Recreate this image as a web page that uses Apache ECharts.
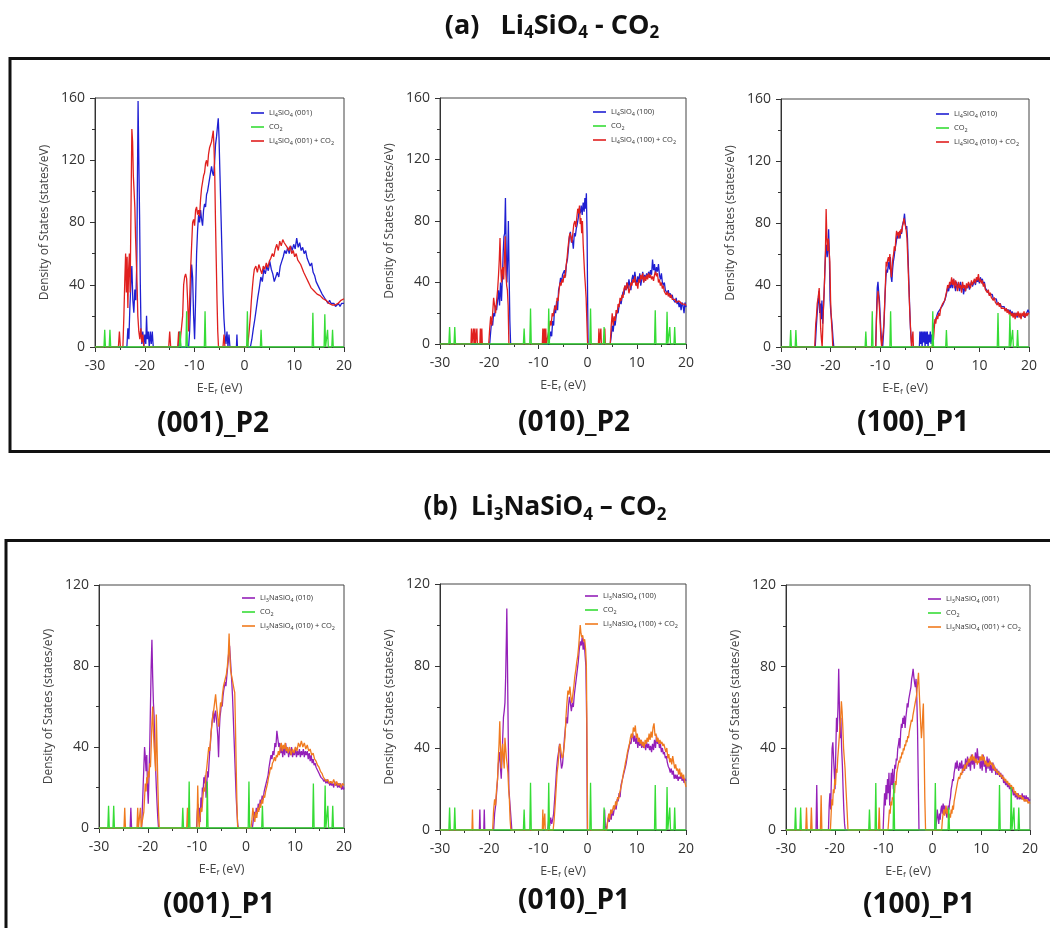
<!DOCTYPE html>
<html>
<head>
<meta charset="utf-8">
<script src="https://cdn.jsdelivr.net/npm/echarts@6/dist/echarts.min.js"></script>
<style>
html,body{margin:0;padding:0;background:#fff;}
#c{width:1050px;height:928px;}
</style>
</head>
<body>
<div id="c"></div>
<script>
// ---------- DATA (energy eV, DOS states/eV) ----------
const xTicks = [-30, -20, -10, 0, 10, 20];
const yTicksA = [0, 40, 80, 120, 160];
const yTicksB = [0, 40, 80, 120];

const co2 = [[-30,0],[-28.2,0],[-28.05,11],[-27.9,0],[-27.15,0],[-27,11],[-26.85,0],[-13.05,0],[-12.9,10],[-12.75,0],[-11.75,0],[-11.6,23],[-11.45,0],[-8.05,0],[-7.9,23],[-7.75,0],[0.45,0],[0.6,23],[0.75,0],[3.2,0],[3.35,11],[3.5,0],[13.6,0],[13.75,22],[13.9,0],[16,0],[16.15,21],[16.3,0],[16.55,0],[16.7,11],[16.85,0],[17.55,0],[17.7,11],[17.85,0],[20,0]];

const a1Clean = [[-30,0],[-23.6,0],[-23.4,12],[-23.2,5],[-23,25],[-22.8,40],[-22.6,52],[-22.4,30],[-22.2,22],[-22,37],[-21.8,30],[-21.6,55],[-21.5,100],[-21.35,158],[-21.2,120],[-21.05,85],[-20.9,40],[-20.75,10],[-20.6,2],[-20.4,10],[-20.2,0],[-20,8],[-19.8,2],[-19.65,20],[-19.5,5],[-19.3,10],[-19.1,0],[-18.9,10],[-18.7,2],[-18.5,10],[-18.3,0],[-13.2,0],[-13,10],[-12.8,0],[-11.2,0],[-11,10],[-10.8,30],[-10.6,53],[-10.4,45],[-10.2,20],[-10,5],[-9.8,30],[-9.6,60],[-9.4,75],[-9.2,85],[-9,80],[-8.8,88],[-8.6,82],[-8.4,78],[-8.2,88],[-8,92],[-7.8,90],[-7.6,98],[-7.4,100],[-7.2,104],[-7,108],[-6.8,112],[-6.6,116],[-6.4,112],[-6.2,110],[-6,118],[-5.8,130],[-5.6,135],[-5.4,142],[-5.25,147],[-5.1,135],[-4.9,110],[-4.7,85],[-4.5,60],[-4.3,35],[-4.1,18],[-3.9,8],[-3.7,2],[-3.5,10],[-3.3,0],[-3.1,8],[-2.9,0],[-1.6,0],[-1.5,8],[-1.4,0],[1.2,0],[1.5,5],[1.8,12],[2.1,18],[2.4,25],[2.7,32],[3,38],[3.3,45],[3.6,42],[3.9,50],[4.2,47],[4.5,52],[4.8,49],[5.1,55],[5.4,50],[5.7,47],[6,42],[6.3,45],[6.6,48],[6.9,45],[7.2,52],[7.5,55],[7.8,58],[8.1,62],[8.4,60],[8.7,64],[9,60],[9.3,65],[9.6,62],[9.9,66],[10.2,63],[10.5,70],[10.8,64],[11.1,67],[11.4,62],[11.7,64],[12,60],[12.3,62],[12.6,57],[12.9,58],[13.2,52],[13.5,54],[13.8,48],[14.1,46],[14.4,42],[14.7,43],[15,38],[15.3,37],[15.6,34],[15.9,33],[16.2,31],[16.5,30],[16.8,28],[17.1,30],[17.4,28],[17.7,27],[18,28],[18.3,26],[18.6,27],[18.9,28],[19.2,26],[19.5,28],[19.8,27],[20,28]];
const a1Ads = [[-30,0],[-25.3,0],[-25.1,10],[-24.9,0],[-24.4,0],[-24.2,20],[-24,45],[-23.85,60],[-23.7,35],[-23.55,58],[-23.4,25],[-23.25,50],[-23.1,60],[-22.95,35],[-22.8,80],[-22.6,140],[-22.45,132],[-22.3,110],[-22.15,100],[-22,90],[-21.85,70],[-21.7,55],[-21.55,40],[-21.4,20],[-21.2,10],[-21,5],[-20.8,12],[-20.6,3],[-20.4,8],[-20.2,0],[-15.2,0],[-15,10],[-14.8,0],[-13.4,0],[-13.2,10],[-13,0],[-12.6,0],[-12.4,20],[-12.2,40],[-12,45],[-11.8,47],[-11.6,44],[-11.4,30],[-11.2,10],[-11,30],[-10.8,50],[-10.6,65],[-10.4,80],[-10.2,82],[-10,78],[-9.8,88],[-9.6,90],[-9.4,85],[-9.2,88],[-9,84],[-8.8,95],[-8.6,102],[-8.4,106],[-8.2,110],[-8,112],[-7.8,118],[-7.6,120],[-7.4,116],[-7.2,124],[-7,128],[-6.8,130],[-6.6,132],[-6.4,136],[-6.25,139],[-6.1,128],[-5.95,110],[-5.8,80],[-5.65,55],[-5.5,30],[-5.35,10],[-5.2,0],[-4.3,0],[-4.1,8],[-3.9,0],[0.6,0],[0.8,5],[1,12],[1.2,20],[1.4,30],[1.6,38],[1.8,45],[2,50],[2.3,52],[2.6,48],[2.9,53],[3.2,50],[3.5,47],[3.8,52],[4.1,50],[4.4,54],[4.7,51],[5,55],[5.3,57],[5.6,60],[5.9,58],[6.2,63],[6.5,66],[6.8,62],[7.1,68],[7.4,65],[7.7,69],[8,67],[8.3,68],[8.6,64],[8.9,62],[9.2,65],[9.5,60],[9.8,62],[10.1,58],[10.4,60],[10.7,56],[11,57],[11.3,53],[11.6,52],[11.9,48],[12.2,47],[12.5,44],[12.8,42],[13.1,40],[13.4,38],[13.7,37],[14,36],[14.3,35],[14.6,34],[14.9,34],[15.2,33],[15.5,32],[15.8,31],[16.1,30],[16.4,30],[16.7,29],[17,28],[17.3,28],[17.6,27],[17.9,28],[18.2,27],[18.5,27],[18.8,28],[19.1,28],[19.4,30],[19.7,30],[20,31]];

const a2Clean = [[-30,0],[-19.9,0],[-19.7,8],[-19.5,15],[-19.3,12],[-19.1,20],[-18.9,18],[-18.7,25],[-18.5,22],[-18.3,28],[-18.1,35],[-17.9,25],[-17.7,40],[-17.5,28],[-17.3,45],[-17.15,60],[-17,70],[-16.85,72],[-16.7,95],[-16.55,62],[-16.4,40],[-16.25,55],[-16.1,80],[-15.95,45],[-15.8,15],[-15.65,0],[-7.9,0],[-7.7,4],[-7.5,8],[-7.3,5],[-7.1,15],[-6.9,12],[-6.7,25],[-6.5,20],[-6.3,28],[-6.1,22],[-5.9,35],[-5.7,38],[-5.5,43],[-5.3,40],[-5.1,45],[-4.9,44],[-4.7,48],[-4.5,44],[-4.3,52],[-4.1,55],[-3.9,62],[-3.7,70],[-3.5,73],[-3.3,66],[-3.1,68],[-2.9,62],[-2.7,72],[-2.5,70],[-2.3,75],[-2.1,78],[-1.9,82],[-1.7,88],[-1.5,85],[-1.3,90],[-1.1,84],[-0.9,92],[-0.7,86],[-0.55,95],[-0.4,88],[-0.25,98],[-0.1,70],[0,30],[0.1,0],[4.6,0],[4.8,5],[5,12],[5.2,8],[5.4,15],[5.6,12],[5.8,18],[6,22],[6.2,20],[6.4,25],[6.6,28],[6.8,26],[7,30],[7.2,34],[7.4,32],[7.6,38],[7.8,35],[8,40],[8.2,36],[8.4,42],[8.6,38],[8.8,35],[9,42],[9.2,45],[9.4,40],[9.6,47],[9.8,42],[10,38],[10.2,44],[10.4,40],[10.6,46],[10.8,38],[11,42],[11.2,47],[11.4,40],[11.6,45],[11.8,42],[12,46],[12.2,43],[12.4,47],[12.6,44],[12.8,48],[13,45],[13.2,55],[13.4,48],[13.6,52],[13.8,45],[14,50],[14.2,47],[14.4,52],[14.6,45],[14.8,42],[15,46],[15.2,40],[15.4,38],[15.6,40],[15.8,35],[16,36],[16.2,33],[16.4,35],[16.6,31],[16.8,33],[17,30],[17.2,32],[17.4,29],[17.6,30],[17.8,27],[18,30],[18.2,26],[18.4,28],[18.6,24],[18.8,27],[19,22],[19.2,27],[19.4,25],[19.6,20],[19.8,27],[20,24]];
const a2Ads = [[-30,0],[-23.7,0],[-23.6,10],[-23.5,0],[-23.3,0],[-23.2,10],[-23.1,0],[-22.9,10],[-22.8,0],[-22.6,0],[-22.5,10],[-22.4,0],[-21.9,0],[-21.8,10],[-21.7,0],[-21.5,10],[-21.4,0],[-20.1,0],[-19.9,10],[-19.7,18],[-19.5,12],[-19.3,20],[-19.1,30],[-18.9,25],[-18.7,20],[-18.5,28],[-18.3,35],[-18.1,45],[-17.95,55],[-17.8,69],[-17.65,50],[-17.5,40],[-17.35,48],[-17.2,50],[-17.05,42],[-16.9,55],[-16.75,70],[-16.6,45],[-16.45,38],[-16.3,35],[-16.15,25],[-16,0],[-9.2,0],[-9.1,10],[-9,0],[-8.8,10],[-8.7,0],[-8.5,10],[-8.4,0],[-8,0],[-7.8,10],[-7.6,15],[-7.4,12],[-7.2,20],[-7,18],[-6.8,22],[-6.6,25],[-6.4,22],[-6.2,30],[-6,28],[-5.8,35],[-5.6,40],[-5.4,38],[-5.2,42],[-5,40],[-4.8,45],[-4.6,43],[-4.4,50],[-4.2,55],[-4,62],[-3.8,68],[-3.6,72],[-3.4,70],[-3.2,66],[-3,72],[-2.8,78],[-2.6,80],[-2.4,76],[-2.2,82],[-2,88],[-1.8,85],[-1.65,90],[-1.5,78],[-1.35,82],[-1.2,72],[-1.05,80],[-0.9,65],[-0.75,55],[-0.6,45],[-0.45,38],[-0.3,30],[-0.15,15],[0,0],[2.2,0],[2.3,10],[2.4,0],[2.6,0],[2.7,10],[2.8,0],[3.4,0],[3.5,10],[3.6,0],[4.6,0],[4.8,12],[5,20],[5.2,12],[5.4,18],[5.6,15],[5.8,22],[6,20],[6.2,26],[6.4,24],[6.6,30],[6.8,28],[7,32],[7.2,30],[7.4,36],[7.6,38],[7.8,35],[8,40],[8.2,38],[8.4,33],[8.6,36],[8.8,40],[9,38],[9.2,42],[9.4,40],[9.6,44],[9.8,38],[10,40],[10.2,36],[10.4,42],[10.6,40],[10.8,45],[11,42],[11.2,46],[11.4,40],[11.6,44],[11.8,41],[12,45],[12.2,42],[12.4,46],[12.6,43],[12.8,45],[13,42],[13.2,44],[13.4,41],[13.6,45],[13.8,47],[14,44],[14.2,46],[14.4,40],[14.6,42],[14.8,38],[15,40],[15.2,36],[15.4,38],[15.6,34],[15.8,35],[16,32],[16.2,34],[16.4,31],[16.6,33],[16.8,30],[17,32],[17.2,29],[17.4,30],[17.6,28],[17.8,29],[18,27],[18.2,28],[18.4,26],[18.6,28],[18.8,27],[19,28],[19.2,26],[19.4,27],[19.6,25],[19.8,26],[20,25]];

const a3Clean = [[-30,0],[-23.1,0],[-22.9,12],[-22.7,22],[-22.5,30],[-22.35,36],[-22.2,22],[-22.05,28],[-21.9,18],[-21.75,30],[-21.6,15],[-21.45,25],[-21.3,35],[-21.15,50],[-21,62],[-20.85,66],[-20.7,58],[-20.55,62],[-20.4,76],[-20.25,60],[-20.1,30],[-19.95,22],[-19.8,18],[-19.65,12],[-19.5,5],[-19.35,0],[-10.9,0],[-10.75,20],[-10.6,38],[-10.45,42],[-10.3,35],[-10.15,30],[-10,20],[-9.85,10],[-9.7,3],[-9.5,0],[-9.3,10],[-9.15,22],[-9,35],[-8.85,45],[-8.7,50],[-8.55,48],[-8.4,52],[-8.25,55],[-8.1,50],[-7.95,58],[-7.8,45],[-7.65,42],[-7.5,50],[-7.35,55],[-7.2,58],[-7.05,62],[-6.9,65],[-6.75,68],[-6.6,72],[-6.45,70],[-6.3,74],[-6.15,72],[-6,70],[-5.85,75],[-5.7,73],[-5.55,78],[-5.4,80],[-5.25,82],[-5.1,86],[-4.95,80],[-4.8,76],[-4.65,78],[-4.5,70],[-4.35,55],[-4.2,40],[-4.05,25],[-3.9,12],[-3.75,5],[-3.6,0],[-2.1,0],[-2,10],[-1.85,2],[-1.7,10],[-1.55,0],[-1.4,10],[-1.25,3],[-1.1,10],[-0.95,0],[-0.8,10],[-0.65,2],[-0.5,10],[-0.35,0],[-0.2,8],[-0.05,3],[0.1,10],[0.25,2],[0.4,8],[0.55,5],[0.7,12],[0.85,15],[1,14],[1.2,18],[1.4,20],[1.6,22],[1.8,21],[2,24],[2.2,23],[2.4,25],[2.6,27],[2.8,28],[3,30],[3.2,32],[3.4,35],[3.6,38],[3.8,36],[4,40],[4.2,38],[4.4,42],[4.6,38],[4.8,44],[5,40],[5.2,36],[5.4,42],[5.6,38],[5.8,41],[6,36],[6.2,42],[6.4,37],[6.6,40],[6.8,34],[7,38],[7.2,36],[7.4,40],[7.6,38],[7.8,41],[8,37],[8.2,40],[8.4,42],[8.6,39],[8.8,41],[9,43],[9.2,40],[9.4,44],[9.6,42],[9.8,44],[10,41],[10.2,45],[10.4,42],[10.6,44],[10.8,40],[11,42],[11.2,38],[11.4,39],[11.6,36],[11.8,37],[12,34],[12.2,35],[12.4,33],[12.6,34],[12.8,31],[13,32],[13.2,30],[13.4,31],[13.6,28],[13.8,29],[14,27],[14.2,28],[14.4,26],[14.6,27],[14.8,25],[15,26],[15.2,24],[15.4,25],[15.6,23],[15.8,24],[16,22],[16.2,24],[16.4,21],[16.6,23],[16.8,20],[17,22],[17.2,20],[17.4,22],[17.6,19],[17.8,21],[18,20],[18.2,22],[18.4,19],[18.6,21],[18.8,20],[19,22],[19.2,19],[19.4,21],[19.6,20],[19.8,24],[20,22]];
const a3Ads = [[-30,0],[-23.2,0],[-23,15],[-22.85,20],[-22.7,28],[-22.5,32],[-22.3,38],[-22.15,25],[-22,12],[-21.85,5],[-21.7,0],[-21.5,20],[-21.35,32],[-21.2,45],[-21.05,60],[-20.9,89],[-20.75,70],[-20.6,62],[-20.45,70],[-20.3,62],[-20.15,55],[-20,30],[-19.85,18],[-19.7,10],[-19.55,0],[-10.9,0],[-10.75,18],[-10.6,30],[-10.45,36],[-10.3,32],[-10.15,25],[-10,15],[-9.85,5],[-9.7,0],[-9.4,0],[-9.25,15],[-9.1,28],[-8.95,40],[-8.8,55],[-8.65,52],[-8.5,56],[-8.35,58],[-8.2,55],[-8.05,60],[-7.9,50],[-7.75,45],[-7.6,52],[-7.45,57],[-7.3,60],[-7.15,65],[-7,62],[-6.85,70],[-6.7,75],[-6.55,72],[-6.4,74],[-6.25,70],[-6.1,75],[-5.95,72],[-5.8,76],[-5.65,74],[-5.5,78],[-5.35,80],[-5.2,83],[-5.05,80],[-4.9,78],[-4.75,75],[-4.6,70],[-4.45,58],[-4.3,45],[-4.15,32],[-4,20],[-3.85,10],[-3.7,0],[-3.5,0],[-3.4,10],[-3.3,0],[0.6,0],[0.75,5],[0.9,12],[1.05,18],[1.2,15],[1.4,20],[1.6,18],[1.8,22],[2,20],[2.2,25],[2.4,24],[2.6,28],[2.8,27],[3,30],[3.2,33],[3.4,36],[3.6,40],[3.8,38],[4,42],[4.2,40],[4.4,45],[4.6,40],[4.8,44],[5,38],[5.2,43],[5.4,40],[5.6,36],[5.8,42],[6,38],[6.2,40],[6.4,35],[6.6,42],[6.8,38],[7,40],[7.2,36],[7.4,41],[7.6,38],[7.8,42],[8,40],[8.2,38],[8.4,43],[8.6,40],[8.8,42],[9,44],[9.2,41],[9.4,45],[9.6,43],[9.8,47],[10,42],[10.2,44],[10.4,41],[10.6,43],[10.8,39],[11,41],[11.2,37],[11.4,38],[11.6,35],[11.8,37],[12,33],[12.2,35],[12.4,32],[12.6,33],[12.8,30],[13,32],[13.2,29],[13.4,30],[13.6,27],[13.8,29],[14,26],[14.2,28],[14.4,25],[14.6,26],[14.8,24],[15,25],[15.2,23],[15.4,25],[15.6,22],[15.8,24],[16,21],[16.2,23],[16.4,20],[16.6,22],[16.8,19],[17,22],[17.2,18],[17.4,22],[17.6,20],[17.8,23],[18,19],[18.2,22],[18.4,18],[18.6,22],[18.8,20],[19,23],[19.2,19],[19.4,22],[19.6,20],[19.8,22],[20,21]];

const b1Clean = [[-30,0],[-23.65,0],[-23.5,10],[-23.35,0],[-21.3,0],[-21.15,10],[-21,20],[-20.85,30],[-20.7,40],[-20.55,35],[-20.4,28],[-20.25,36],[-20.1,20],[-19.95,12],[-19.8,25],[-19.65,40],[-19.5,60],[-19.35,80],[-19.2,93],[-19.05,75],[-18.9,62],[-18.75,55],[-18.6,40],[-18.45,30],[-18.3,20],[-18.15,12],[-18,5],[-17.85,0],[-10.1,0],[-9.95,8],[-9.8,12],[-9.65,5],[-9.5,10],[-9.35,3],[-9.2,15],[-9.05,10],[-8.9,20],[-8.75,18],[-8.6,25],[-8.45,22],[-8.3,26],[-8.15,15],[-8,22],[-7.85,28],[-7.7,25],[-7.55,32],[-7.4,38],[-7.25,42],[-7.1,48],[-6.95,52],[-6.8,55],[-6.65,58],[-6.5,52],[-6.35,56],[-6.2,58],[-6.05,54],[-5.9,50],[-5.75,45],[-5.6,35],[-5.45,48],[-5.3,55],[-5.15,58],[-5,62],[-4.85,60],[-4.7,65],[-4.55,68],[-4.4,70],[-4.25,72],[-4.1,70],[-3.95,74],[-3.8,78],[-3.65,82],[-3.5,88],[-3.35,90],[-3.2,84],[-3.05,78],[-2.9,72],[-2.75,65],[-2.6,55],[-2.45,45],[-2.3,35],[-2.15,25],[-2,15],[-1.85,8],[-1.7,2],[-1.55,0],[1.3,0],[1.5,4],[1.7,8],[1.9,5],[2.1,10],[2.3,7],[2.5,12],[2.7,9],[2.9,14],[3.1,12],[3.3,16],[3.5,14],[3.7,18],[3.9,20],[4.1,22],[4.3,24],[4.5,26],[4.7,30],[4.9,33],[5.1,36],[5.3,34],[5.5,38],[5.7,36],[5.9,42],[6.1,40],[6.3,48],[6.5,44],[6.7,40],[6.9,42],[7.1,37],[7.3,40],[7.5,35],[7.7,40],[7.9,36],[8.1,42],[8.3,37],[8.5,40],[8.7,35],[8.9,39],[9.1,36],[9.3,40],[9.5,35],[9.7,38],[9.9,36],[10.1,40],[10.3,35],[10.5,38],[10.7,36],[10.9,39],[11.1,35],[11.3,38],[11.5,36],[11.7,39],[11.9,35],[12.1,38],[12.3,36],[12.5,38],[12.7,34],[12.9,37],[13.1,33],[13.3,36],[13.5,32],[13.7,34],[13.9,31],[14.1,32],[14.3,30],[14.5,29],[14.7,28],[14.9,27],[15.1,26],[15.3,25],[15.5,25],[15.7,24],[15.9,23],[16.1,24],[16.3,22],[16.5,24],[16.7,22],[16.9,23],[17.1,21],[17.3,23],[17.5,21],[17.7,22],[17.9,20],[18.1,23],[18.3,21],[18.5,22],[18.7,20],[18.9,22],[19.1,20],[19.3,22],[19.5,19],[19.7,21],[19.9,19],[20,20]];
const b1Ads = [[-30,0],[-24.9,0],[-24.75,10],[-24.6,0],[-22.25,0],[-22.1,10],[-21.95,0],[-21.7,0],[-21.55,10],[-21.4,0],[-21,0],[-20.85,8],[-20.7,15],[-20.55,22],[-20.4,18],[-20.25,25],[-20.1,22],[-19.95,28],[-19.8,25],[-19.65,32],[-19.5,30],[-19.35,40],[-19.2,52],[-19.05,60],[-18.9,48],[-18.75,40],[-18.6,35],[-18.45,28],[-18.3,56],[-18.15,40],[-18,22],[-17.85,8],[-17.7,0],[-12.1,0],[-11.95,10],[-11.8,0],[-10,0],[-9.85,21],[-9.7,5],[-9.55,0],[-9.4,5],[-9.2,10],[-9,8],[-8.8,15],[-8.6,20],[-8.4,18],[-8.2,26],[-8,30],[-7.8,35],[-7.6,40],[-7.4,38],[-7.2,45],[-7,50],[-6.8,55],[-6.6,58],[-6.4,62],[-6.2,66],[-6,60],[-5.8,56],[-5.6,50],[-5.4,55],[-5.2,62],[-5,60],[-4.8,66],[-4.6,70],[-4.4,72],[-4.2,74],[-4,76],[-3.8,80],[-3.6,86],[-3.45,96],[-3.3,85],[-3.15,78],[-3,76],[-2.85,74],[-2.7,72],[-2.55,70],[-2.4,68],[-2.3,67],[-2.15,50],[-2,30],[-1.85,12],[-1.7,0],[1,0],[1.2,4],[1.4,10],[1.6,6],[1.8,3],[2,8],[2.2,5],[2.4,10],[2.6,8],[2.8,12],[3,10],[3.2,14],[3.4,12],[3.6,16],[3.8,15],[4,18],[4.2,20],[4.4,22],[4.6,25],[4.8,27],[5,30],[5.2,29],[5.4,32],[5.6,33],[5.8,35],[6,33],[6.2,36],[6.4,35],[6.6,38],[6.8,36],[7,40],[7.2,42],[7.4,38],[7.6,41],[7.8,39],[8,42],[8.2,38],[8.4,40],[8.6,37],[8.9,40],[9.2,36],[9.5,39],[9.8,37],[10.1,40],[10.4,38],[10.7,42],[11,40],[11.3,43],[11.6,40],[11.9,42],[12.2,39],[12.5,41],[12.8,38],[13.1,39],[13.4,36],[13.7,37],[14,34],[14.3,33],[14.6,31],[14.9,30],[15.2,28],[15.5,27],[15.8,25],[16.1,25],[16.4,23],[16.7,24],[17,22],[17.3,23],[17.6,22],[17.9,24],[18.2,21],[18.5,23],[18.8,21],[19.1,22],[19.4,20],[19.7,22],[20,21]];

const b2Clean = [[-30,0],[-22,0],[-21.9,10],[-21.8,0],[-21.1,0],[-21,10],[-20.9,0],[-19.1,0],[-18.9,8],[-18.7,12],[-18.5,18],[-18.3,25],[-18.15,32],[-18,35],[-17.85,38],[-17.7,30],[-17.55,25],[-17.4,35],[-17.25,45],[-17.1,55],[-16.95,58],[-16.8,62],[-16.65,75],[-16.5,95],[-16.42,108],[-16.3,85],[-16.15,50],[-16,20],[-15.85,15],[-15.7,10],[-15.55,5],[-15.4,0],[-8.1,0],[-7.9,5],[-7.7,2],[-7.5,6],[-7.3,3],[-7.1,5],[-6.9,8],[-6.7,15],[-6.5,22],[-6.3,30],[-6.1,35],[-5.9,38],[-5.7,42],[-5.5,35],[-5.3,30],[-5.1,32],[-4.9,38],[-4.7,45],[-4.5,50],[-4.3,55],[-4.1,52],[-3.9,60],[-3.7,65],[-3.5,62],[-3.3,58],[-3.1,62],[-2.9,60],[-2.7,66],[-2.5,70],[-2.3,74],[-2.1,78],[-1.9,82],[-1.7,88],[-1.5,92],[-1.3,90],[-1.1,94],[-0.9,88],[-0.7,92],[-0.5,85],[-0.35,80],[-0.2,55],[-0.05,0],[3.3,0],[3.45,10],[3.6,2],[3.8,0],[4,3],[4.2,6],[4.4,4],[4.6,8],[4.8,5],[5,10],[5.2,7],[5.4,10],[5.6,12],[5.8,10],[6,15],[6.2,14],[6.4,18],[6.6,16],[6.8,22],[7,24],[7.2,26],[7.4,28],[7.6,30],[7.8,32],[8,35],[8.2,38],[8.4,40],[8.6,43],[8.8,42],[9,45],[9.2,47],[9.4,43],[9.6,46],[9.8,42],[10,45],[10.2,40],[10.4,44],[10.6,41],[10.8,44],[11,40],[11.2,43],[11.4,40],[11.6,42],[11.8,39],[12,43],[12.2,40],[12.4,42],[12.6,39],[12.8,41],[13,38],[13.2,42],[13.4,39],[13.6,44],[13.8,40],[14,46],[14.2,42],[14.4,44],[14.6,40],[14.8,42],[15,38],[15.2,40],[15.4,37],[15.6,38],[15.8,35],[16,36],[16.2,33],[16.4,31],[16.6,30],[16.8,28],[17,30],[17.2,27],[17.4,29],[17.6,25],[17.8,27],[18,25],[18.2,27],[18.4,24],[18.6,26],[18.8,25],[19,27],[19.2,24],[19.4,26],[19.6,23],[19.8,25],[20,24]];
const b2Ads = [[-30,0],[-23.5,0],[-23.4,10],[-23.3,0],[-19.3,0],[-19.1,10],[-18.9,15],[-18.7,12],[-18.5,20],[-18.3,25],[-18.15,35],[-18,42],[-17.85,53],[-17.7,40],[-17.55,30],[-17.4,38],[-17.25,42],[-17.1,35],[-16.95,30],[-16.8,45],[-16.65,40],[-16.5,35],[-16.35,32],[-16.2,28],[-16.05,20],[-15.9,15],[-15.75,5],[-15.6,0],[-9.2,0],[-9.1,10],[-9,0],[-8.8,0],[-8.7,8],[-8.6,0],[-7,0],[-6.8,5],[-6.6,12],[-6.4,20],[-6.2,28],[-6,32],[-5.8,40],[-5.6,42],[-5.4,38],[-5.2,35],[-5,36],[-4.8,40],[-4.6,45],[-4.4,55],[-4.2,62],[-4,68],[-3.8,66],[-3.6,70],[-3.4,65],[-3.2,62],[-3,66],[-2.8,70],[-2.6,75],[-2.4,78],[-2.2,82],[-2,85],[-1.8,90],[-1.65,95],[-1.5,100],[-1.35,96],[-1.2,94],[-1,95],[-0.8,92],[-0.6,93],[-0.4,88],[-0.25,80],[-0.1,40],[0,0],[3.9,0],[4.1,5],[4.3,8],[4.5,5],[4.7,10],[4.9,8],[5.1,10],[5.3,12],[5.5,10],[5.7,14],[5.9,12],[6.1,16],[6.3,15],[6.5,18],[6.7,20],[6.9,22],[7.1,25],[7.3,28],[7.5,30],[7.7,33],[7.9,35],[8.1,38],[8.3,40],[8.5,42],[8.7,45],[8.9,47],[9.1,45],[9.3,50],[9.5,48],[9.7,51],[9.9,45],[10.1,47],[10.3,43],[10.5,45],[10.7,42],[10.9,44],[11.1,41],[11.3,43],[11.5,40],[11.7,44],[11.9,42],[12.1,45],[12.3,43],[12.5,47],[12.7,44],[12.9,48],[13.1,45],[13.3,50],[13.5,52],[13.7,46],[13.9,47],[14.1,43],[14.3,45],[14.5,42],[14.7,44],[14.9,42],[15.1,43],[15.3,41],[15.5,42],[15.7,40],[15.9,38],[16.1,40],[16.3,35],[16.5,37],[16.7,33],[16.9,35],[17.1,32],[17.3,36],[17.5,33],[17.7,30],[17.9,32],[18.1,29],[18.3,30],[18.5,27],[18.7,30],[18.9,26],[19.1,28],[19.3,25],[19.5,27],[19.7,24],[19.9,22],[20,21]];

const b3Clean = [[-30,0],[-23.85,0],[-23.7,22],[-23.55,0],[-21.3,0],[-21.15,12],[-21,18],[-20.85,10],[-20.7,25],[-20.55,40],[-20.4,43],[-20.25,35],[-20.1,28],[-19.95,20],[-19.8,38],[-19.65,55],[-19.5,48],[-19.35,60],[-19.2,79],[-19.05,60],[-18.9,45],[-18.75,55],[-18.6,40],[-18.45,32],[-18.3,20],[-18.15,10],[-18,3],[-17.85,0],[-10.1,0],[-9.95,10],[-9.8,18],[-9.65,12],[-9.5,22],[-9.35,15],[-9.2,25],[-9.05,18],[-8.9,28],[-8.75,12],[-8.6,20],[-8.45,28],[-8.3,22],[-8.15,30],[-8,20],[-7.85,26],[-7.7,32],[-7.55,30],[-7.4,35],[-7.25,34],[-7.1,40],[-6.95,42],[-6.8,45],[-6.65,40],[-6.5,48],[-6.35,52],[-6.2,50],[-6.05,55],[-5.9,52],[-5.75,56],[-5.6,50],[-5.45,55],[-5.3,58],[-5.15,62],[-5,60],[-4.85,64],[-4.7,66],[-4.55,68],[-4.4,70],[-4.25,74],[-4.1,76],[-3.95,79],[-3.8,75],[-3.65,72],[-3.5,70],[-3.35,74],[-3.2,65],[-3.05,50],[-2.9,25],[-2.75,0],[0.7,0],[0.85,5],[1,10],[1.15,6],[1.3,3],[1.45,8],[1.6,5],[1.75,10],[1.9,12],[2.05,8],[2.2,13],[2.35,10],[2.5,12],[2.65,8],[2.8,10],[2.95,6],[3.1,9],[3.25,12],[3.4,10],[3.55,14],[3.7,16],[3.85,20],[4,22],[4.15,25],[4.3,24],[4.45,28],[4.6,30],[4.75,33],[4.9,30],[5.05,34],[5.2,31],[5.4,29],[5.6,33],[5.8,30],[6,34],[6.2,28],[6.4,32],[6.6,29],[6.8,35],[7,30],[7.2,36],[7.4,31],[7.6,34],[7.8,29],[8,37],[8.2,32],[8.4,35],[8.6,30],[8.8,38],[9,33],[9.2,40],[9.4,34],[9.6,36],[9.8,30],[10,34],[10.2,29],[10.4,37],[10.6,31],[10.8,33],[11,28],[11.2,36],[11.4,30],[11.6,35],[11.8,29],[12,32],[12.2,28],[12.4,33],[12.6,29],[12.8,31],[13,27],[13.2,30],[13.4,27],[13.6,29],[13.8,26],[14,28],[14.2,25],[14.4,27],[14.6,23],[14.8,25],[15,22],[15.2,24],[15.4,21],[15.6,23],[15.8,20],[16,22],[16.2,19],[16.4,20],[16.6,17],[16.8,19],[17,16],[17.2,18],[17.4,15],[17.6,18],[17.8,15],[18,17],[18.2,15],[18.4,18],[18.6,15],[18.8,17],[19,14],[19.2,17],[19.4,15],[19.6,16],[19.8,14],[20,15]];
const b3Ads = [[-30,0],[-25.95,0],[-25.8,11],[-25.65,0],[-24.95,0],[-24.8,11],[-24.65,0],[-22.95,0],[-22.8,17],[-22.65,0],[-20.9,0],[-20.75,8],[-20.6,15],[-20.45,12],[-20.3,20],[-20.15,18],[-20,25],[-19.85,22],[-19.7,30],[-19.55,28],[-19.4,35],[-19.25,40],[-19.1,45],[-18.95,50],[-18.8,55],[-18.65,63],[-18.5,58],[-18.35,50],[-18.2,40],[-18.05,35],[-17.9,30],[-17.75,22],[-17.6,15],[-17.45,8],[-17.3,0],[-11.05,0],[-10.9,11],[-10.75,0],[-9.1,0],[-8.95,5],[-8.8,10],[-8.65,8],[-8.5,14],[-8.35,12],[-8.2,16],[-8.05,15],[-7.9,20],[-7.75,18],[-7.6,24],[-7.45,22],[-7.3,28],[-7.15,30],[-7,32],[-6.85,34],[-6.7,33],[-6.55,36],[-6.4,35],[-6.25,38],[-6.1,37],[-5.95,40],[-5.8,39],[-5.65,42],[-5.5,41],[-5.35,44],[-5.2,43],[-5.05,46],[-4.9,45],[-4.75,48],[-4.6,50],[-4.45,52],[-4.3,54],[-4.15,53],[-4,56],[-3.85,58],[-3.7,60],[-3.55,62],[-3.4,64],[-3.25,66],[-3.1,70],[-2.95,74],[-2.85,77],[-2.7,68],[-2.55,60],[-2.4,52],[-2.25,45],[-2.1,50],[-1.95,58],[-1.85,62],[-1.7,40],[-1.55,15],[-1.4,0],[1.9,0],[2.05,5],[2.2,8],[2.35,10],[2.5,7],[2.65,10],[2.8,12],[2.95,8],[3.1,10],[3.25,6],[3.4,5],[3.55,8],[3.7,6],[3.85,10],[4,8],[4.15,12],[4.3,10],[4.45,14],[4.6,16],[4.75,18],[4.9,20],[5.05,22],[5.2,24],[5.4,26],[5.6,25],[5.8,28],[6,27],[6.2,30],[6.4,29],[6.6,32],[6.8,30],[7,33],[7.2,32],[7.4,35],[7.6,33],[7.8,36],[8,34],[8.2,37],[8.4,34],[8.6,36],[8.8,33],[9,35],[9.2,32],[9.4,34],[9.6,33],[9.8,36],[10,34],[10.2,37],[10.4,34],[10.6,36],[10.8,32],[11,34],[11.2,31],[11.4,33],[11.6,31],[11.8,34],[12,32],[12.2,33],[12.4,30],[12.6,32],[12.8,29],[13,30],[13.2,28],[13.4,29],[13.6,27],[13.8,28],[14,26],[14.2,27],[14.4,25],[14.6,26],[14.8,24],[15,25],[15.2,23],[15.4,24],[15.6,22],[15.8,23],[16,21],[16.2,22],[16.4,20],[16.6,21],[16.8,18],[17,19],[17.2,17],[17.4,18],[17.6,16],[17.8,17],[18,16],[18.2,17],[18.4,15],[18.6,16],[18.8,14],[19,15],[19.2,14],[19.4,15],[19.6,13],[19.8,14],[20,13]];

const panelLabels = ['(001)_P2', '(010)_P2', '(100)_P1', '(001)_P1', '(010)_P1', '(100)_P1'];
const cleanNames = ['Li4SiO4 (001)', 'Li4SiO4 (100)', 'Li4SiO4 (010)', 'Li3NaSiO4 (010)', 'Li3NaSiO4 (100)', 'Li3NaSiO4 (001)'];
const adsNames = ['Li4SiO4 (001) + CO2', 'Li4SiO4 (100) + CO2', 'Li4SiO4 (010) + CO2', 'Li3NaSiO4 (010) + CO2', 'Li3NaSiO4 (100) + CO2', 'Li3NaSiO4 (001) + CO2'];
const co2Name = 'CO2';
const cleanData = [a1Clean, a2Clean, a3Clean, b1Clean, b2Clean, b3Clean];
const adsData = [a1Ads, a2Ads, a3Ads, b1Ads, b2Ads, b3Ads];

// ---------- LAYOUT ----------
const FONT = '"Open Sans", "DejaVu Sans", sans-serif';
const panels = [
  {g:[95,98,249,249],  ymax:160, lg:[246,103], c1:'#1f1fd2', c2:'#e0201e', lbl:[213,424]},
  {g:[440,98,246,246], ymax:160, lg:[588,102], c1:'#1f1fd2', c2:'#e0201e', lbl:[574,423]},
  {g:[781,99,248,248], ymax:160, lg:[931,104], c1:'#1f1fd2', c2:'#e0201e', lbl:[913,423]},
  {g:[99,585,245,243], ymax:120, lg:[237,588], c1:'#9420b8', c2:'#f07a1e', lbl:[219,905]},
  {g:[440,584,246,246],ymax:120, lg:[580,586], c1:'#9420b8', c2:'#f07a1e', lbl:[574,901]},
  {g:[786,585,244,245],ymax:120, lg:[923,589], c1:'#9420b8', c2:'#f07a1e', lbl:[919,905]}
];
const GREEN = '#36dc36';

function subify(s){ return s.replace(/([A-Za-z])(\d)/g, '$1{s|$2}'); }

const grid=[], xAxis=[], yAxis=[], series=[], legend=[], graphic=[];
panels.forEach((p,i)=>{
  grid.push({left:p.g[0], top:p.g[1], width:p.g[2], height:p.g[3], show:true, borderColor:'#444', borderWidth:1, backgroundColor:'transparent'});
  xAxis.push({type:'value', gridIndex:i, min:xTicks[0], max:xTicks[xTicks.length-1], interval:10,
    axisLine:{onZero:false, lineStyle:{color:'#333', width:1}},
    axisTick:{length:5, lineStyle:{color:'#333'}},
    minorTick:{show:true, splitNumber:2, length:3, lineStyle:{color:'#333'}},
    splitLine:{show:false},
    axisLabel:{fontSize:14, color:'#333', fontFamily:FONT, margin:12},
    name:'E-E{s|f} (eV)', nameLocation:'middle', nameGap:33,
    nameTextStyle:{fontSize:12.5, color:'#444', fontFamily:FONT, lineHeight:16,
      rich:{s:{fontSize:8, fontFamily:FONT, color:'#444', lineHeight:9, verticalAlign:'bottom'}}}
  });
  yAxis.push({type:'value', gridIndex:i, min:0, max:p.ymax, interval:40,
    axisLine:{show:true, onZero:false, lineStyle:{color:'#333', width:1}},
    axisTick:{show:true, length:5, lineStyle:{color:'#333'}},
    minorTick:{show:true, splitNumber:2, length:3, lineStyle:{color:'#333'}},
    splitLine:{show:false},
    axisLabel:{fontSize:14, color:'#333', fontFamily:FONT, margin:10},
    name:'Density of States (states/eV)', nameLocation:'middle', nameGap:44,
    nameTextStyle:{fontSize:12, color:'#444', fontFamily:FONT}
  });
  series.push({type:'line', name:cleanNames[i], xAxisIndex:i, yAxisIndex:i, data:cleanData[i], symbol:'none', animation:false,
    lineStyle:{width:1.3, color:p.c1}, itemStyle:{color:p.c1}});
  series.push({type:'line', name:adsNames[i], xAxisIndex:i, yAxisIndex:i, data:adsData[i], symbol:'none', animation:false,
    lineStyle:{width:1.3, color:p.c2}, itemStyle:{color:p.c2}});
  series.push({type:'line', name:co2Name, xAxisIndex:i, yAxisIndex:i, data:co2, symbol:'none', animation:false,
    lineStyle:{width:1.3, color:GREEN}, itemStyle:{color:GREEN}});
  legend.push({left:p.lg[0], top:p.lg[1], orient:'vertical', icon:'rect', itemWidth:13, itemHeight:1.6, itemGap:4,
    selectedMode:false, data:[cleanNames[i], co2Name, adsNames[i]], formatter:n=>subify(n),
    textStyle:{fontSize:7.5, color:'#333', fontFamily:FONT, lineHeight:10,
      rich:{s:{fontSize:5.5, color:'#333', fontFamily:FONT, lineHeight:6, verticalAlign:'bottom'}}}});
  graphic.push({type:'text', x:p.lbl[0], y:p.lbl[1], style:{text:panelLabels[i], fontSize:28, fontWeight:'bold', fontFamily:FONT,
    fill:'#111', align:'center', verticalAlign:'middle'}});
});

graphic.push({type:'rect', shape:{x:10, y:58.5, width:1070, height:393}, style:{fill:'none', stroke:'#111', lineWidth:3}});
graphic.push({type:'rect', shape:{x:6, y:540.5, width:1070, height:420}, style:{fill:'none', stroke:'#111', lineWidth:3}});
const titleRich = {s:{fontSize:17, fontWeight:'bold', fontFamily:FONT, fill:'#111', lineHeight:18, verticalAlign:'bottom'}};
graphic.push({type:'text', x:552, y:26, style:{text:'(a)   Li{s|4}SiO{s|4} - CO{s|2}', fontSize:27, fontWeight:'bold', fontFamily:FONT,
  fill:'#111', align:'center', verticalAlign:'middle', lineHeight:32, rich:titleRich}});
graphic.push({type:'text', x:545, y:508, style:{text:'(b)  Li{s|3}NaSiO{s|4} \u2013 CO{s|2}', fontSize:26, fontWeight:'bold', fontFamily:FONT,
  fill:'#111', align:'center', verticalAlign:'middle', lineHeight:32, rich:titleRich}});

const chart = echarts.init(document.getElementById('c'), null, {renderer:'canvas'});
chart.setOption({animation:false, backgroundColor:'#fff', grid, xAxis, yAxis, series, legend, graphic});
</script>
</body>
</html>
